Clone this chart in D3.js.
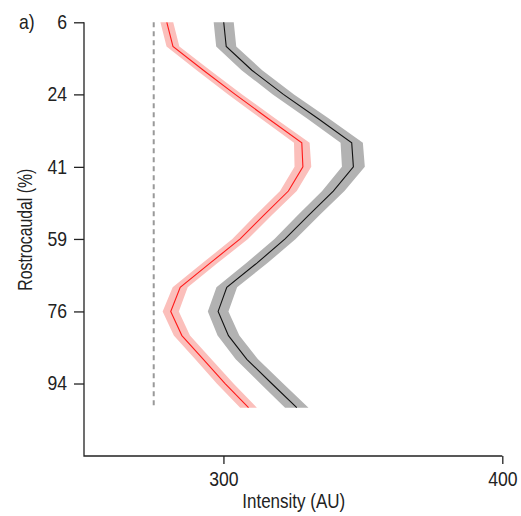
<!DOCTYPE html>
<html>
<head>
<meta charset="utf-8">
<script src="https://cdn.jsdelivr.net/npm/d3@7"></script>
<style>
  html, body { margin: 0; padding: 0; background: #fff; }
  svg { display: block; }
  text { font-family: "Liberation Sans", Arial, Helvetica, sans-serif; fill: #222; }
</style>
</head>
<body>
<svg id="chart" width="521" height="516"></svg>
<script>
// Rostrocaudal position of each section (% of length)
const positions = [5.9, 11.8, 17.6, 23.5, 29.4, 35.3, 41.2, 47.1, 52.9, 58.8, 64.7, 70.6, 76.5, 82.4, 88.2, 94.1, 100];

// Mean intensity (AU) and standard error for each group
const redMean = [279.7, 281.9, 292.8, 304.2, 316.0, 328.1, 328.5, 323.3, 314.6, 306.0, 295.2, 284.5, 281.1, 285.1, 292.8, 300.6, 309.0];
const redSE   = [2.3, 2.3, 2.4, 2.5, 2.6, 2.8, 3.0, 3.0, 2.9, 2.8, 2.7, 2.7, 2.9, 2.9, 2.9, 3.0, 3.0];
const blackMean = [300.1, 301.0, 310.2, 321.5, 333.9, 346.0, 346.6, 339.4, 330.7, 322.1, 312.0, 301.2, 298.1, 301.8, 308.4, 317.3, 326.3];
const blackSE   = [3.6, 3.6, 3.7, 3.8, 3.9, 4.0, 4.1, 4.0, 3.9, 3.8, 3.8, 3.7, 3.7, 3.9, 4.0, 4.1, 4.2];

// Background reference level
const baseline = 275;

// Axis ticks
const yTickValues = [5.9, 23.5, 41.2, 58.8, 76.5, 94.1];
const yTickLabels = ["6", "24", "41", "59", "76", "94"];
const xTickValues = [300, 400];

const svg = d3.select("#chart");

const x = d3.scaleLinear().domain([250, 400]).range([84, 502.3]);
const y = d3.scaleLinear().domain([5.9, 111.8]).range([22.3, 456]);

const series = [
  { mean: redMean, se: redSE, band: "#fbbfbb", line: "#ff1a1a" },
  { mean: blackMean, se: blackSE, band: "#b2b2b2", line: "#111111" }
];

// Dashed reference line
svg.append("line")
  .attr("x1", x(baseline)).attr("x2", x(baseline))
  .attr("y1", y(positions[0])).attr("y2", y(positions[positions.length - 1]))
  .attr("stroke", "#999999")
  .attr("stroke-width", 2)
  .attr("stroke-dasharray", "5,4");

// Error bands and mean lines
series.forEach(s => {
  const rows = positions.map((p, i) => ({ p, m: s.mean[i], e: s.se[i] }));
  const area = d3.area()
    .y(d => y(d.p))
    .x0(d => x(d.m - d.e))
    .x1(d => x(d.m + d.e));
  svg.append("path")
    .datum(rows)
    .attr("d", area)
    .attr("fill", s.band);
  const line = d3.line()
    .y(d => y(d.p))
    .x(d => x(d.m));
  svg.append("path")
    .datum(rows)
    .attr("d", line)
    .attr("fill", "none")
    .attr("stroke", s.line)
    .attr("stroke-width", 1.1);
});

// Axes (L-shaped frame)
const tickScale = 0.88;

const yAxis = d3.axisLeft(y)
  .tickValues(yTickValues)
  .tickFormat((d, i) => yTickLabels[i])
  .tickSize(10)
  .tickPadding(7)
  .tickSizeOuter(0);

const gy = svg.append("g").attr("transform", "translate(84,0)").call(yAxis);
gy.select(".domain").remove();
gy.selectAll(".tick line").attr("stroke", "#222").attr("stroke-width", 1.3);
gy.selectAll(".tick text")
  .attr("font-size", 20)
  .attr("x", -17 / tickScale)
  .attr("transform", `scale(${tickScale},1)`);

const xAxis = d3.axisBottom(x)
  .tickValues(xTickValues)
  .tickFormat(d3.format("d"))
  .tickSize(8)
  .tickPadding(8)
  .tickSizeOuter(0);

const gx = svg.append("g").attr("transform", "translate(0,456)").call(xAxis);
gx.select(".domain").remove();
gx.selectAll(".tick line").attr("stroke", "#222").attr("stroke-width", 1.3);
gx.selectAll(".tick text")
  .attr("font-size", 20)
  .attr("transform", `scale(${tickScale},1)`);

// Frame lines
svg.append("path")
  .attr("d", `M${x(250)},${y(5.9)}V${y(111.8)}H${x(400)}`)
  .attr("fill", "none")
  .attr("stroke", "#222")
  .attr("stroke-width", 1.3);

// Titles
svg.append("text")
  .attr("transform", "translate(293.7,507.7) scale(0.85,1)")
  .attr("text-anchor", "middle")
  .attr("font-size", 20)
  .text("Intensity (AU)");

svg.append("text")
  .attr("transform", "translate(31.5,229.7) rotate(-90) scale(0.79,1)")
  .attr("text-anchor", "middle")
  .attr("font-size", 20)
  .text("Rostrocaudal (%)");

svg.append("text")
  .attr("transform", "translate(19,29.3) scale(0.88,1)")
  .attr("font-size", 20)
  .text("a)");
</script>
</body>
</html>
